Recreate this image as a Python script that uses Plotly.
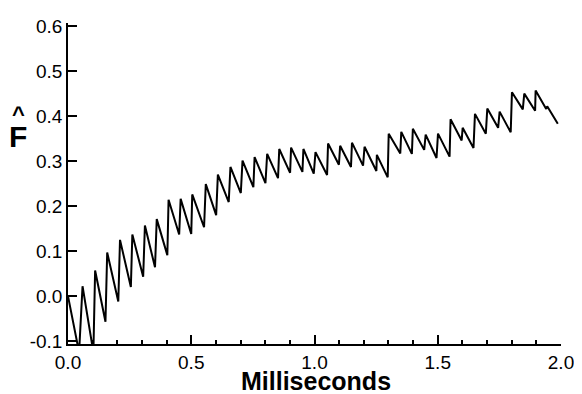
import plotly.graph_objects as go

# Data (time in ms, F-hat value)
time_ms = [
    0.000, 0.045, 0.059, 0.103, 0.110, 0.152, 0.159, 0.204, 0.211, 0.255,
    0.261, 0.305, 0.312, 0.353, 0.360, 0.403, 0.408, 0.451, 0.457, 0.500,
    0.504, 0.552, 0.559, 0.601, 0.608, 0.652, 0.659, 0.701, 0.708, 0.752,
    0.757, 0.801, 0.808, 0.852, 0.857, 0.901, 0.905, 0.951, 0.955, 0.997,
    1.004, 1.051, 1.055, 1.099, 1.104, 1.148, 1.152, 1.197, 1.203, 1.251,
    1.253, 1.297, 1.301, 1.348, 1.352, 1.395, 1.399, 1.445, 1.451, 1.495,
    1.501, 1.548, 1.552, 1.597, 1.601, 1.645, 1.651, 1.695, 1.701, 1.745,
    1.751, 1.796, 1.801, 1.845, 1.851, 1.895, 1.897, 1.940, 1.944, 1.987,
]
f_hat = [
    0.000, -0.125, 0.022, -0.125, 0.057, -0.057, 0.097, -0.012, 0.125, 0.020,
    0.137, 0.043, 0.157, 0.064, 0.171, 0.091, 0.214, 0.137, 0.216, 0.138,
    0.226, 0.153, 0.249, 0.180, 0.270, 0.209, 0.287, 0.229, 0.301, 0.242,
    0.309, 0.251, 0.316, 0.262, 0.327, 0.274, 0.330, 0.276, 0.327, 0.272,
    0.320, 0.269, 0.339, 0.292, 0.334, 0.287, 0.341, 0.290, 0.332, 0.278,
    0.314, 0.264, 0.361, 0.317, 0.365, 0.316, 0.372, 0.325, 0.359, 0.307,
    0.361, 0.310, 0.393, 0.346, 0.374, 0.329, 0.405, 0.361, 0.417, 0.374,
    0.410, 0.364, 0.453, 0.415, 0.450, 0.412, 0.457, 0.416, 0.422, 0.383,
]

x_tick_vals = [0.0, 0.5, 1.0, 1.5, 2.0]
x_tick_text = ["0.0", "0.5", "1.0", "1.5", "2.0"]
y_tick_vals = [-0.1, 0.0, 0.1, 0.2, 0.3, 0.4, 0.5, 0.6]
y_tick_text = ["-0.1", "0.0", "0.1", "0.2", "0.3", "0.4", "0.5", "0.6"]

FONT = "Liberation Sans, Arial, Helvetica, sans-serif"

fig = go.Figure()
fig.add_trace(go.Scatter(
    x=time_ms, y=f_hat, mode="lines",
    line=dict(color="black", width=2),
    showlegend=False, hoverinfo="skip",
))

# the page body adds an 8px offset, so the figure is sized/margined to compensate
fig.update_layout(
    width=574, height=386,
    margin=dict(l=60, r=14, t=8, b=50),
    paper_bgcolor="white", plot_bgcolor="white",
    font=dict(family=FONT, size=19, color="black"),
    xaxis=dict(
        range=[0, 2.0], showgrid=False, zeroline=False,
        showline=True, linecolor="black", linewidth=1.5, mirror=False,
        ticks="inside", ticklen=9, tickwidth=1.5, tickcolor="black",
        tickvals=x_tick_vals, ticktext=x_tick_text,
        minor=dict(dtick=0.1, ticks="inside", ticklen=4, tickwidth=1.5, tickcolor="black"),
        tickfont=dict(size=19),
    ),
    yaxis=dict(
        range=[-0.1065, 0.607], showgrid=False, zeroline=False,
        showline=True, linecolor="black", linewidth=1.5, mirror=False,
        ticks="inside", ticklen=9, tickwidth=1.5, tickcolor="black",
        tickvals=y_tick_vals, ticktext=y_tick_text,
        tickfont=dict(size=19),
    ),
    annotations=[
        dict(text="<b>Milliseconds</b>", xref="paper", yref="paper",
             x=0.504, y=-0.114, xanchor="center", yanchor="middle",
             showarrow=False, borderpad=0, font=dict(size=25, family=FONT)),
        dict(text="<b>F</b>", xref="paper", yref="paper",
             x=-0.102, y=0.645, xanchor="center", yanchor="middle",
             showarrow=False, borderpad=0, font=dict(size=30, family=FONT)),
        dict(text="<b>^</b>", xref="paper", yref="paper",
             x=-0.1006, y=0.716, xanchor="center", yanchor="middle",
             showarrow=False, borderpad=0, font=dict(size=22, family=FONT)),
    ],
)

fig.write_html("out.html")
